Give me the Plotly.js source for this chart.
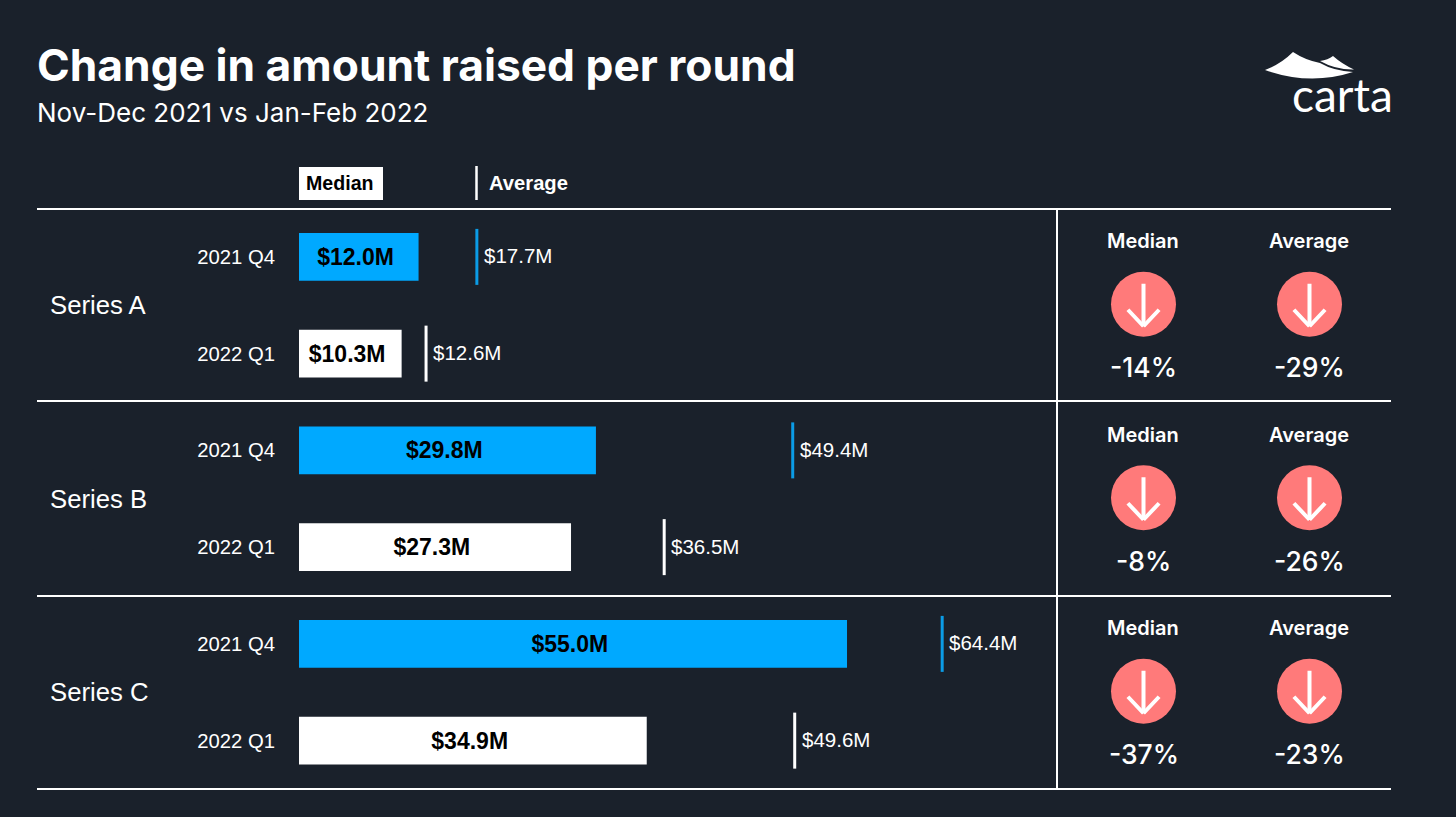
<!DOCTYPE html>
<html>
<head>
<meta charset="utf-8">
<script src="https://cdn.plot.ly/plotly-3.0.1.min.js"></script>
<style>html,body{margin:0;padding:0;background:#1a212b;overflow:hidden}#chart{width:1456px;height:817px}</style>
</head>
<body>
<div id="chart"></div>
<script>
const rounds = ["Series A", "Series B", "Series C"];
const periods = ["2021 Q4", "2022 Q1"];
const medianQ4 = [12.0, 29.8, 55.0];
const medianQ1 = [10.3, 27.3, 34.9];
const averageQ4 = [17.7, 49.4, 64.4];
const averageQ1 = [12.6, 36.5, 49.6];
const changeMedian = ["-14%", "-8%", "-37%"];
const changeAverage = ["-29%", "-26%", "-23%"];
const changeKinds = ["Median", "Average"];

const W = 1456, H = 817;
const BG = "#1a212b", BLUE = "#00a9ff", TICKBLUE = "#0b9ce6", RED = "#ff7a7a", WHITE = "#ffffff";
const SANS = "Liberation Sans, Arial, sans-serif", INTER = "Inter, sans-serif";
const px = v => v / W, py = v => 1 - v / H;
const money = v => "$" + v.toFixed(1) + "M";

const rowsQ4 = rounds.map((_, i) => i * 2);
const rowsQ1 = rounds.map((_, i) => i * 2 + 1);
const groupRows = rounds.map((_, i) => i * 2 + 0.5);

function barTrace(name, rows, vals, color) {
  return {type: "bar", orientation: "h", name, y: rows, x: vals, width: 0.496, xaxis: "x", yaxis: "y",
    marker: {color, line: {width: 0}}, text: vals.map(v => money(v) + "\u00A0"), textposition: "inside", insidetextanchor: "middle",
    textangle: 0, constraintext: "none", cliponaxis: false,
    insidetextfont: {family: SANS, size: 23, color: "#000000", weight: 700}, hoverinfo: "x+y"};
}
function tickTrace(name, rows, vals, color) {
  return {type: "scatter", mode: "markers", name, y: rows, x: vals, xaxis: "x3", yaxis: "y", cliponaxis: false,
    marker: {symbol: "line-ns", size: 40, color, line: {color, width: 3}}};
}
const traces = [
  barTrace("Median 2021 Q4", rowsQ4, medianQ4, BLUE),
  barTrace("Median 2022 Q1", rowsQ1, medianQ1, WHITE),
  tickTrace("Average 2021 Q4", rowsQ4, averageQ4, TICKBLUE),
  tickTrace("Average 2022 Q1", rowsQ1, averageQ1, WHITE)
];
changeKinds.forEach(k => traces.push({type: "scatter", mode: "markers", name: k + " change", xaxis: "x2", yaxis: "y2",
  x: groupRows.map(() => k), y: groupRows, marker: {symbol: "circle", size: 65, color: RED, line: {width: 0}}}));

const ann = [];
function note(text, x, y, opts) {
  ann.push(Object.assign({text, x: px(x), y: py(y), xref: "paper", yref: "paper", showarrow: false,
    xanchor: "left", yanchor: "middle"}, opts));
}
note("Nov-Dec 2021 vs Jan-Feb 2022", 35, 113, {font: {family: INTER, size: 26, color: WHITE}});
note("Median", 303.5, 183, {font: {family: SANS, size: 19.6, color: "#000000", weight: 700}});
note("Average", 486.5, 183, {font: {family: SANS, size: 20.2, color: WHITE, weight: 700}});
note("carta", 1395, 95, {xanchor: "right", font: {family: "Lato, sans-serif", size: 46, color: WHITE, weight: 400}});
rounds.forEach((r, i) => {
  ann.push({text: r, x: px(48), y: groupRows[i], xref: "paper", yref: "y", showarrow: false, xanchor: "left", yanchor: "middle",
    font: {family: SANS, size: 25.7, color: WHITE}});
  [[rowsQ4[i], averageQ4[i]], [rowsQ1[i], averageQ1[i]]].forEach(([row, v]) => {
    ann.push({text: money(v), x: v, y: row, xref: "x3", yref: "y", showarrow: false, xanchor: "left", yanchor: "middle", xshift: 5,
      yshift: 1, font: {family: SANS, size: 20.5, color: WHITE}});
  });
  changeKinds.forEach((k, j) => {
    const val = (j ? changeAverage : changeMedian)[i];
    const base = {x: k, y: groupRows[i], xref: "x2", yref: "y2"};
    ann.push(Object.assign({text: k, showarrow: false, yanchor: "middle", yshift: 63, xshift: -1,
      font: {family: INTER, size: 20, color: WHITE, weight: 600}}, base));
    ann.push(Object.assign({text: val, showarrow: false, yanchor: "middle", yshift: -63,
      font: {family: INTER, size: 26.5, color: WHITE, weight: 500}}, base));
    [[0, -44], [-17, -18], [17, -18]].forEach(([ax, ay]) => {
      ann.push(Object.assign({text: "", showarrow: true, ax, ay, yshift: -22,
        arrowhead: 0, arrowwidth: 4, arrowcolor: WHITE, standoff: 0}, base));
    });
  });
});

const line = (x0, y0, x1, y1, w, c) => ({type: "line", xref: "paper", yref: "paper", x0: px(x0), y0: py(y0), x1: px(x1), y1: py(y1),
  line: {color: c || WHITE, width: w || 2}});
const shapes = [
  line(37, 209, 1391, 209), line(37, 401, 1391, 401), line(37, 596, 1391, 596), line(37, 789, 1391, 789),
  line(1057, 209, 1057, 789),
  line(476.5, 166, 476.5, 200, 2.5),
  {type: "rect", xref: "paper", yref: "paper", x0: px(299), x1: px(383), y0: py(167), y1: py(200), fillcolor: WHITE, line: {width: 0}, layer: "below"},
  {type: "path", xref: "paper", yref: "paper", fillcolor: WHITE, line: {width: 0},
    path: `M${px(1265)},${py(70)} Q${px(1281)},${py(64)} ${px(1293)},${py(52)} Q${px(1305)},${py(60)} ${px(1320)},${py(63)} Q${px(1334)},${py(71)} ${px(1353)},${py(72)} Q${px(1310)},${py(86)} ${px(1265)},${py(70)} Z`},
  {type: "path", xref: "paper", yref: "paper", fillcolor: WHITE, line: {width: 0},
    path: `M${px(1320)},${py(61)} Q${px(1328)},${py(60)} ${px(1333)},${py(56)} Q${px(1342)},${py(64)} ${px(1354)},${py(69.5)} Q${px(1336)},${py(70)} ${px(1320)},${py(61)} Z`}
];

const yDomain = [py(789), py(208.5)];
const yDomain2 = [py(788), py(207.5)];
const unitRange = 758 / 9.964, tickOffset = 1.5 / 9.964;
const layout = {
  width: W, height: H, paper_bgcolor: BG, plot_bgcolor: BG, showlegend: false, barmode: "overlay",
  margin: {l: 0, r: 0, t: 0, b: 0, pad: 0},
  title: {text: "<b>Change in amount raised per round</b>", x: px(37), xanchor: "left", xref: "paper", y: py(65), yanchor: "middle", yref: "paper",
    font: {family: INTER, size: 44.3, color: WHITE}},
  xaxis: {domain: [px(299), px(1057)], range: [0, unitRange], visible: false, fixedrange: true},
  xaxis3: {range: [-tickOffset, unitRange - tickOffset], visible: false, fixedrange: true, overlaying: "x", anchor: "y"},
  yaxis: {domain: yDomain, range: [5.5, -0.5], anchor: "x", tickmode: "array", tickvals: rowsQ4.concat(rowsQ1),
    ticktext: rowsQ4.map(() => periods[0]).concat(rowsQ1.map(() => periods[1])), ticks: "", showgrid: false, zeroline: false, showline: false,
    ticklabelstandoff: 23, tickfont: {family: SANS, size: 20.3, color: WHITE}, fixedrange: true},
  xaxis2: {domain: [px(1057), px(1391)], type: "category", categoryorder: "array", categoryarray: changeKinds,
    range: [-86.5 / 166, 247.5 / 166], visible: false, fixedrange: true, anchor: "y2"},
  yaxis2: {domain: yDomain2, range: [5.5, -0.5], visible: false, fixedrange: true, anchor: "x2"},
  annotations: ann, shapes
};
Plotly.newPlot("chart", traces, layout, {displayModeBar: false, staticPlot: true});
</script>
</body>
</html>
